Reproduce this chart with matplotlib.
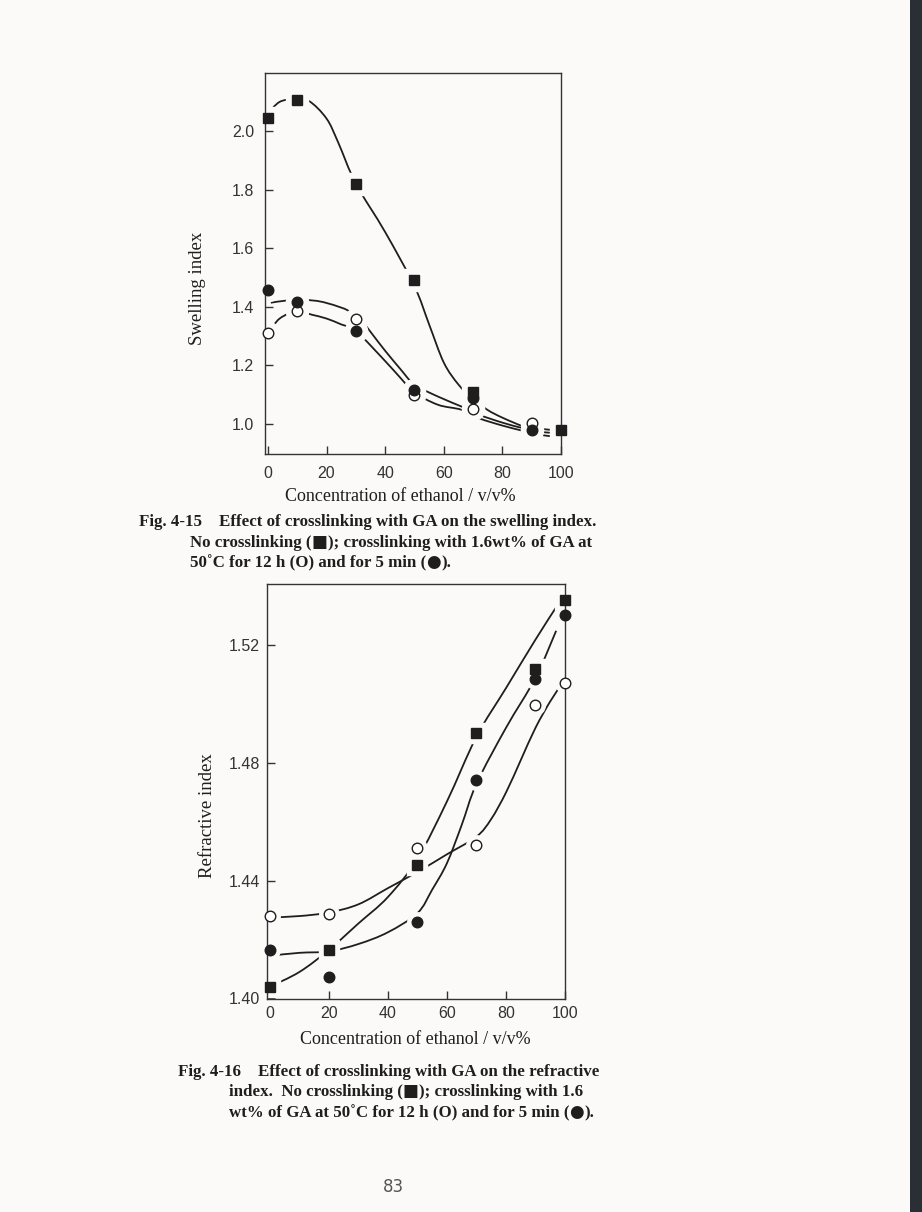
"""Swelling index and refractive index vs ethanol concentration (Fig. 4-15 / 4-16)."""

import numpy as np
import matplotlib
matplotlib.use("Agg")
import matplotlib.pyplot as plt
from matplotlib.path import Path
from matplotlib.patches import PathPatch, Rectangle

# ---- data: Fig. 4-15 swelling index -------------------------------------
conc_sw_sq = [0, 10, 30, 50, 70, 100]
sw_sq = [2.045, 2.105, 1.82, 1.49, 1.11, 0.98]
conc_sw = [0, 10, 30, 50, 70, 90]
sw_open = [1.31, 1.385, 1.36, 1.10, 1.052, 1.003]
sw_fill = [1.457, 1.418, 1.318, 1.117, 1.088, 0.98]

# hand-drawn guide curves
fit_sw_sq_x = [0, 4, 9, 14, 20, 24, 30, 40, 50, 55, 60, 65, 70, 75, 80, 87, 92, 97]
fit_sw_sq_y = [2.06, 2.099, 2.108, 2.102, 2.042, 1.96, 1.82, 1.655, 1.47, 1.34, 1.21,
               1.135, 1.085, 1.048, 1.022, 0.993, 0.985, 0.980]
fit_sw_fill_x = [1, 6, 12, 20, 30, 40, 45, 50, 58, 66, 72, 80, 87, 92, 97]
fit_sw_fill_y = [1.414, 1.421, 1.424, 1.413, 1.37, 1.25, 1.19, 1.135, 1.094, 1.060,
                 1.032, 1.005, 0.986, 0.975, 0.970]
fit_sw_open_x = [0, 4, 10, 15, 20, 25, 30, 40, 45, 50, 58, 66, 72, 80, 87, 92, 97]
fit_sw_open_y = [1.308, 1.36, 1.385, 1.373, 1.36, 1.34, 1.318, 1.215, 1.16, 1.108,
                 1.066, 1.049, 1.020, 0.995, 0.977, 0.965, 0.958]

# ---- data: Fig. 4-16 refractive index -----------------------------------
conc_ri = [0, 20, 50, 70, 90, 100]
ri_sq = [1.4038, 1.4163, 1.4453, 1.4901, 1.5121, 1.5355]
ri_open = [1.428, 1.4287, 1.451, 1.452, 1.4998, 1.5072]
ri_fill = [1.4163, 1.4073, 1.426, 1.4742, 1.5085, 1.5304]

fit_ri_sq_x = [0, 10, 20, 30, 40, 50, 60, 70, 80, 90, 97]
fit_ri_sq_y = [1.404, 1.409, 1.4165, 1.4255, 1.4345, 1.4475, 1.467, 1.489, 1.5055,
               1.522, 1.533]
fit_ri_fill_x = [0, 10, 20, 30, 40, 50, 55, 60, 65, 70, 80, 90, 97]
fit_ri_fill_y = [1.4145, 1.4155, 1.416, 1.4185, 1.4225, 1.429, 1.437, 1.446, 1.459,
                 1.473, 1.492, 1.509, 1.525]
fit_ri_open_x = [0, 10, 20, 30, 40, 50, 60, 70, 75, 80, 85, 90, 95, 99]
fit_ri_open_y = [1.4275, 1.428, 1.4292, 1.432, 1.4375, 1.443, 1.449, 1.455, 1.461,
                 1.470, 1.481, 1.492, 1.501, 1.507]

xticks = [0, 20, 40, 60, 80, 100]
sw_yticks = [1.0, 1.2, 1.4, 1.6, 1.8, 2.0]
ri_yticks = [1.40, 1.44, 1.48, 1.52]

PAPER = "#fcf9f9"
INK = "#1e1e1e"
SERIF = ["Liberation Serif", "DejaVu Serif"]
SANS = ["Liberation Sans", "DejaVu Sans"]
SYM = ["DejaVu Sans"]          # bigger ■ / ● than the serif face has


def smooth_curve(ax, xs, ys, lw=1.3):
    """Catmull-Rom through the nodes, drawn as cubic Bezier segments."""
    p = np.column_stack([xs, ys]).astype(float)
    p_ext = np.vstack([p[0], p, p[-1]])
    verts, codes = [p[0]], [Path.MOVETO]
    for i in range(1, len(p_ext) - 2):
        c1 = p_ext[i] + (p_ext[i + 1] - p_ext[i - 1]) / 6
        c2 = p_ext[i + 1] - (p_ext[i + 2] - p_ext[i]) / 6
        verts += [c1, c2, p_ext[i + 1]]
        codes += [Path.CURVE4] * 3
    ax.add_patch(PathPatch(Path(verts, codes), facecolor="none", edgecolor=INK,
                           lw=lw, zorder=2, capstyle="butt"))


def markers(ax, x, y, marker, filled, halo):
    # paper-coloured halo leaves the little gaps in the lines round each point
    ax.plot(x, y, ls="none", marker=marker, ms=halo, mfc=PAPER, mec=PAPER,
            zorder=2.2, clip_on=False)
    ax.plot(x, y, ls="none", marker=marker, ms=7.6, mfc=INK if filled else "white",
            mec=INK, mew=1.0, zorder=3, clip_on=False)


def style_axes(ax, yticks, ylabels, xpad, ypad):
    ax.set_facecolor(PAPER)
    for s in ax.spines.values():
        s.set_linewidth(1.0)
        s.set_color("#333333")
    ax.set_xticks(xticks)
    ax.set_yticks(yticks)
    ax.set_yticklabels(ylabels)
    ax.tick_params(direction="in", length=6, width=1.0, color="#333333",
                   labelsize=11.5, labelcolor="#333333")
    ax.tick_params(axis="x", pad=xpad)
    ax.tick_params(axis="y", pad=ypad)
    for lab in ax.get_xticklabels() + ax.get_yticklabels():
        lab.set_family(SANS)


W, H = 922, 1212
fig = plt.figure(figsize=(W / 100, H / 100), dpi=100, facecolor=PAPER)
renderer = fig.canvas.get_renderer()


def px_axes(left, top, right, bottom):
    return fig.add_axes([left / W, 1 - bottom / H, (right - left) / W, (bottom - top) / H])


# ---- Fig. 4-15 -------------------------------------------------------------
ax1 = px_axes(265, 73, 561, 454)
ax1.set_xlim(-1, 100)
ax1.set_ylim(0.898, 2.1975)
smooth_curve(ax1, fit_sw_sq_x, fit_sw_sq_y)
smooth_curve(ax1, fit_sw_fill_x, fit_sw_fill_y)
smooth_curve(ax1, fit_sw_open_x, fit_sw_open_y)
markers(ax1, conc_sw_sq, sw_sq, "s", True, 16)
markers(ax1, conc_sw, sw_open, "o", False, 16)
markers(ax1, conc_sw, sw_fill, "o", True, 16)
style_axes(ax1, sw_yticks, [f"{v:.1f}" for v in sw_yticks], xpad=9, ypad=8)

# ---- Fig. 4-16 -------------------------------------------------------------
ax2 = px_axes(267, 584, 565, 999)
ax2.set_xlim(-1, 100)
ax2.set_ylim(1.3998, 1.5409)
smooth_curve(ax2, fit_ri_sq_x, fit_ri_sq_y)
smooth_curve(ax2, fit_ri_fill_x, fit_ri_fill_y)
smooth_curve(ax2, fit_ri_open_x, fit_ri_open_y)
markers(ax2, conc_ri, ri_sq, "s", True, 14)
markers(ax2, conc_ri, ri_open, "o", False, 14)
markers(ax2, conc_ri, ri_fill, "o", True, 14)
style_axes(ax2, ri_yticks, [f"{v:.2f}" for v in ri_yticks], xpad=5, ypad=5)


# ---- labels and captions (page pixel positions) -------------------------------
def ftext(x, y, s, **kw):
    kw.setdefault("family", SERIF)
    kw.setdefault("color", INK)
    return fig.text(x / W, 1 - y / H, s, **kw)


def caption_line(x, y, pieces, size=12.2):
    """Draw pieces one after another on a baseline; symbols get their own font."""
    cur = x
    for s, fam in pieces:
        t = ftext(cur, y, s, family=fam, fontsize=size, fontweight="bold",
                  ha="left", va="baseline")
        cur = t.get_window_extent(renderer).x1


ftext(198, 288, "Swelling index", fontsize=13.5, rotation=90, ha="center", va="center")
ftext(207, 816, "Refractive index", fontsize=13.5, rotation=90, ha="center", va="center")
ftext(400, 496, "Concentration of ethanol / v/v%", fontsize=13, ha="center", va="center")
ftext(415, 1040, "Concentration of ethanol / v/v%", fontsize=13, ha="center", va="center")

caption_line(139, 526, [("Fig. 4-15    Effect of crosslinking with GA on the swelling index.", SERIF)])
caption_line(190, 547, [("No crosslinking (", SERIF), ("\u25a0", SYM),
                        ("); crosslinking with 1.6wt% of GA at", SERIF)])
caption_line(190, 567, [("50\u02daC for 12 h (O) and for 5 min (", SERIF), ("\u25cf", SYM),
                        (").", SERIF)])

caption_line(178, 1076, [("Fig. 4-16    Effect of crosslinking with GA on the refractive", SERIF)])
caption_line(229, 1096, [("index.  No crosslinking (", SERIF), ("\u25a0", SYM),
                         ("); crosslinking with 1.6", SERIF)])
caption_line(229, 1117, [("wt% of GA at 50\u02daC for 12 h (O) and for 5 min (", SERIF),
                         ("\u25cf", SYM), (").", SERIF)])

ftext(393, 1187, "83", family=["DejaVu Sans"], fontsize=12, color="#555555",
      ha="center", va="center")

# dark edge of the scanned page
fig.add_artist(Rectangle((910 / W, 0), 12 / W, 1, transform=fig.transFigure,
                         facecolor="#2a2e35", edgecolor="none"))

fig.savefig("out.png", dpi=100, facecolor=PAPER)
